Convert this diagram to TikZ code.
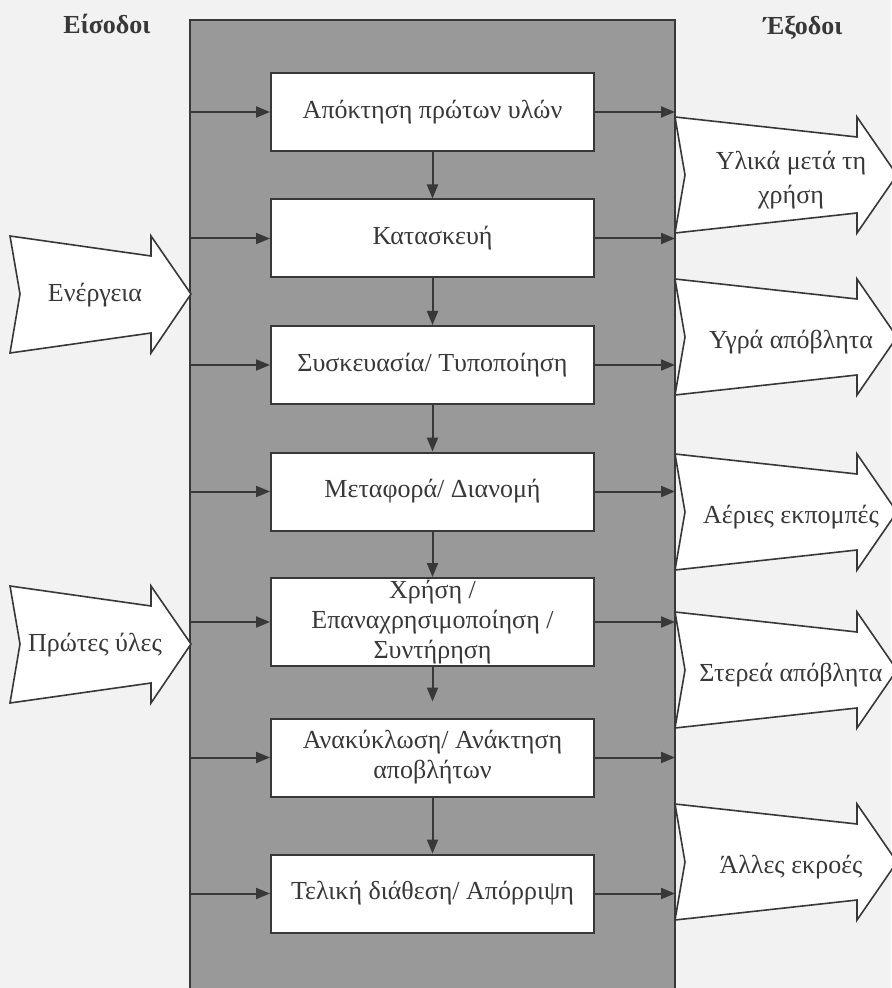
\documentclass[tikz,border=0pt]{standalone}
\usepackage{fontspec}
\setmainfont{Liberation Serif}
\usetikzlibrary{arrows.meta, positioning}

\definecolor{paper}{gray}{0.95}
\definecolor{panelgray}{gray}{0.6}
\definecolor{ink}{gray}{0.22}

\begin{document}
\begin{tikzpicture}[x=0.5pt, y=-0.5pt,
  every node/.style={font=\fontsize{13}{15}\selectfont, text=ink},
  stage/.style={draw=ink, line width=1pt, fill=white, minimum width=161.5pt,
    minimum height=39pt, align=center, inner sep=2pt},
  flow/.style={draw=ink, line width=1pt, -{Triangle[length=7pt,width=5.5pt]}},
  bigarrow/.style={draw=ink, line width=0.8pt, fill=white},
  header/.style={font=\fontsize{13}{15}\selectfont\bfseries}]
  \fill[paper] (0,0) rectangle (891,988);
  \useasboundingbox (0,0) rectangle (891,988);

  % grey process panel
  \path[draw=ink, line width=0.8pt, fill=panelgray] (190,20) rectangle (675,1000);
  \coordinate (inedge) at (190,20);
  \coordinate (outedge) at (675,20);

  \node[header] (inhead) at (107,24) {Είσοδοι};
  \node[header] (outhead) at (803,28) {Έξοδοι};

  % life cycle stages
  \node[stage] (acq) at (432.5,112) {Απόκτηση πρώτων υλών};
  \node[stage] (manu) at (432.5,238.5) {Κατασκευή};
  \node[stage] (pack) at (432.5,365) {Συσκευασία/ Τυποποίηση};
  \node[stage] (dist) at (432.5,491.5) {Μεταφορά/ Διανομή};
  \node[stage, minimum height=44pt, inner sep=0pt] (use) at (432.5,622)
    {Χρήση /\\Επαναχρησιμοποίηση /\\Συντήρηση};
  \node[stage] (recy) at (432.5,757.5) {Ανακύκλωση/ Ανάκτηση\\αποβλήτων};
  \node[stage] (disp) at (432.5,893.5) {Τελική διάθεση/ Απόρριψη};

  \foreach \a/\b in {acq/manu, manu/pack, pack/dist, dist/use, recy/disp}
    \draw[flow] (\a) -- (\b);
  \draw[flow, shorten >=8pt] (use) -- (recy);

  \foreach \s in {acq, manu, pack, dist, use, recy, disp} {
    \draw[flow] (inedge |- \s.west) -- (\s.west);
    \draw[flow] (\s.east) -- (outedge |- \s.east);
  }

  % inputs
  \foreach \t/\lbl [count=\i] in {236/Ενέργεια, 586/Πρώτες ύλες} {
    \draw[bigarrow] (10,\t) -- (151,\t+20) -- (151,\t) -- (191,\t+58)
      -- (151,\t+117) -- (151,\t+97) -- (10,\t+117) -- (20,\t+58) -- cycle;
    \node (in\i) at (95,\t+59) {\lbl};
  }

  % outputs
  \foreach \t/\lbl [count=\i] in {117/{Υλικά μετά τη\\χρήση}, 279/Υγρά απόβλητα,
      454/Αέριες εκπομπές, 612/Στερεά απόβλητα, 804/Άλλες εκροές} {
    \draw[bigarrow] (675,\t) -- (857,\t+20) -- (857,\t) -- (897,\t+58)
      -- (857,\t+116) -- (857,\t+96) -- (675,\t+116) -- (685,\t+58) -- cycle;
    \node[align=center, font=\fontsize{13}{17}\selectfont] (out\i) at (791,\t+63) {\lbl};
  }
\end{tikzpicture}
\end{document}
